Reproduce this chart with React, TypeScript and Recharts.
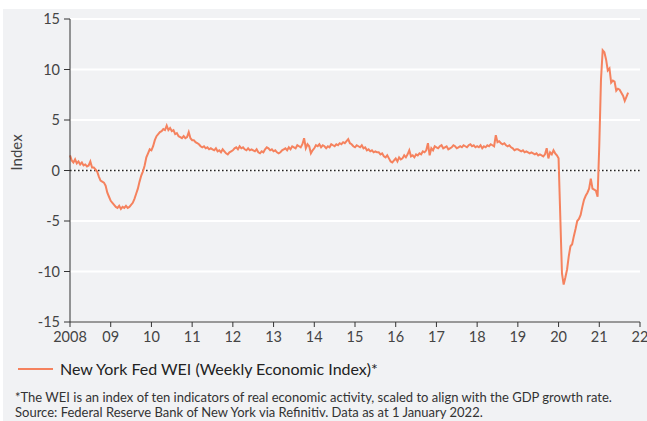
import React from 'react';
import { LineChart, Line, XAxis, YAxis, CartesianGrid, ReferenceLine } from 'recharts';

// semi-monthly readings of the NY Fed WEI, one array per year (24 points a year)
const wei2008 = [1.5, 1.0, 0.8, 1.1, 0.7, 0.9, 0.6, 0.8, 0.5, 0.6, 0.4, 0.5, 0.9, 0.3, 0.3, 0.1, -0.1, -0.6, -1.0, -1.1, -1.2, -1.5, -2.2, -2.6];
const wei2009 = [-3.0, -3.2, -3.4, -3.6, -3.7, -3.5, -3.8, -3.6, -3.7, -3.5, -3.7, -3.6, -3.4, -3.2, -2.8, -2.3, -1.8, -1.1, -0.5, -0.1, 0.5, 1.3, 1.7, 2.1];
const wei2010 = [2.0, 2.4, 3.0, 3.4, 3.6, 3.8, 3.9, 4.1, 4.0, 4.45, 4.0, 4.2, 3.9, 4.0, 3.6, 3.7, 3.4, 3.3, 3.2, 3.4, 3.2, 3.3, 3.8, 3.2];
const wei2011 = [3.0, 3.0, 2.8, 2.7, 2.6, 2.4, 2.3, 2.4, 2.2, 2.3, 2.1, 2.2, 2.1, 2.0, 2.2, 1.9, 2.0, 1.8, 2.1, 1.9, 1.7, 1.6, 1.8, 1.9];
const wei2012 = [2.0, 2.2, 2.3, 2.1, 2.4, 2.2, 2.3, 2.1, 2.0, 2.2, 2.0, 2.1, 2.0, 1.9, 2.1, 1.8, 1.7, 1.9, 1.8, 2.1, 2.3, 2.2, 2.0, 2.1];
const wei2013 = [1.9, 2.0, 1.8, 1.7, 1.8, 2.0, 2.1, 2.2, 2.0, 2.3, 2.1, 2.4, 2.3, 2.2, 2.5, 2.4, 2.3, 2.6, 3.2, 2.2, 2.6, 2.4, 1.7, 2.0];
const wei2014 = [2.2, 2.5, 2.4, 2.6, 2.3, 2.5, 2.4, 2.2, 2.4, 2.3, 2.6, 2.5, 2.4, 2.6, 2.5, 2.7, 2.6, 2.8, 2.7, 2.9, 3.1, 2.7, 2.6, 2.4];
const wei2015 = [2.3, 2.5, 2.4, 2.3, 2.5, 2.2, 2.3, 2.0, 2.1, 1.9, 2.0, 1.8, 1.9, 1.8, 1.8, 1.6, 1.7, 1.4, 1.3, 1.5, 1.2, 0.9, 0.8, 1.0];
const wei2016 = [1.2, 0.9, 1.3, 1.1, 1.2, 1.5, 1.3, 1.6, 2.0, 1.4, 1.5, 1.3, 1.6, 1.5, 1.7, 1.6, 1.9, 1.8, 2.0, 2.7, 1.5, 2.2, 2.0, 2.4];
const wei2017 = [2.3, 2.2, 2.4, 2.5, 2.2, 2.3, 2.4, 2.1, 2.2, 2.3, 2.5, 2.4, 2.2, 2.3, 2.4, 2.3, 2.5, 2.4, 2.3, 2.5, 2.6, 2.4, 2.5, 2.3];
const wei2018 = [2.4, 2.3, 2.5, 2.2, 2.4, 2.3, 2.5, 2.4, 2.6, 2.5, 2.4, 3.5, 2.8, 2.9, 2.7, 2.6, 2.7, 2.5, 2.4, 2.5, 2.3, 2.2, 2.0, 2.1];
const wei2019 = [2.1, 2.0, 1.9, 2.0, 1.8, 1.9, 1.8, 1.7, 1.8, 1.7, 1.6, 1.7, 1.5, 1.6, 1.5, 1.4, 1.6, 2.2, 1.2, 1.8, 1.6, 2.0, 1.7, 1.5];
const wei2020 = [1.2, -4.5, -10.2, -11.3, -10.6, -9.8, -8.5, -7.5, -7.3, -6.5, -5.8, -5.0, -4.8, -4.4, -3.6, -2.9, -2.5, -2.2, -1.8, -0.8, -1.8, -1.9, -2.0, -2.6];
const wei2021 = [2.5, 9.0, 11.9, 11.7, 11.0, 9.9, 10.1, 8.7, 8.9, 8.8, 7.9, 8.1, 8.0, 7.7, 7.4, 6.9, 7.3, 7.7];

const years = [2008, 2009, 2010, 2011, 2012, 2013, 2014, 2015, 2016, 2017, 2018, 2019, 2020, 2021];
const yearValues = [wei2008, wei2009, wei2010, wei2011, wei2012, wei2013, wei2014, wei2015, wei2016, wei2017, wei2018, wei2019, wei2020, wei2021];

const xTicks = [2008, 2009, 2010, 2011, 2012, 2013, 2014, 2015, 2016, 2017, 2018, 2019, 2020, 2021, 2022];
const xLabels = ['2008', '09', '10', '11', '12', '13', '14', '15', '16', '17', '18', '19', '20', '21', '22'];
const yTicks = [-15, -10, -5, 0, 5, 10, 15];

const seriesName = 'New York Fed WEI (Weekly Economic Index)*';
const footnote1 = '*The WEI is an index of ten indicators of real economic activity, scaled to align with the GDP growth rate.';
const footnote2 = 'Source: Federal Reserve Bank of New York via Refinitiv. Data as at 1 January 2022.';

const data = years.flatMap((yr, k) =>
  yearValues[k].map((v, i) => ({ t: yr + i / 24, wei: v }))
);

const LINE = '#f5825e';
const FONT = 'Lato, "Open Sans", sans-serif';

export default function App() {
  return (
    <div
      style={{
        position: 'absolute',
        left: 3,
        top: 9,
        width: 644,
        height: 412,
        background: '#f1f2f4',
        fontFamily: FONT,
      }}
    >
      <LineChart width={644} height={345} data={data} margin={{ top: 10, right: 7, left: 27, bottom: 2 }}>
        <CartesianGrid vertical={false} stroke="#ffffff" strokeWidth={2} />
        <XAxis
          dataKey="t"
          type="number"
          domain={[2008, 2022]}
          ticks={xTicks}
          tickFormatter={(v) => xLabels[xTicks.indexOf(v)]}
          stroke="#333"
          tickSize={5}
          tickMargin={5}
          tick={{ fontSize: 14.5, fill: '#444', fontFamily: FONT }}
          interval={0}
          height={30}
        />
        <YAxis
          domain={[-15, 15]}
          ticks={yTicks}
          stroke="#333"
          tickSize={6}
          tickMargin={4}
          width={40}
          tick={{ fontSize: 14.5, fill: '#444', fontFamily: FONT }}
          label={{ value: 'Index', angle: -90, position: 'insideLeft', offset: -13, fill: '#444', fontSize: 15, fontFamily: FONT }}
        />
        <ReferenceLine y={0} stroke="#222" strokeWidth={1.6} strokeDasharray="1.6 2.4" />
        <Line
          dataKey="wei"
          stroke={LINE}
          strokeWidth={2}
          dot={false}
          isAnimationActive={false}
          type="linear"
        />
      </LineChart>
      <div style={{ position: 'absolute', left: 15, top: 350, display: 'flex', alignItems: 'center' }}>
        <span style={{ display: 'inline-block', width: 35, height: 2, background: LINE, marginRight: 7 }} />
        <span style={{ fontSize: 16, color: '#222' }}>{seriesName}</span>
      </div>
      <div style={{ position: 'absolute', left: 12, top: 381, fontSize: 13, color: '#333', lineHeight: '15px' }}>
        <div>{footnote1}</div>
        <div>{footnote2}</div>
      </div>
    </div>
  );
}
